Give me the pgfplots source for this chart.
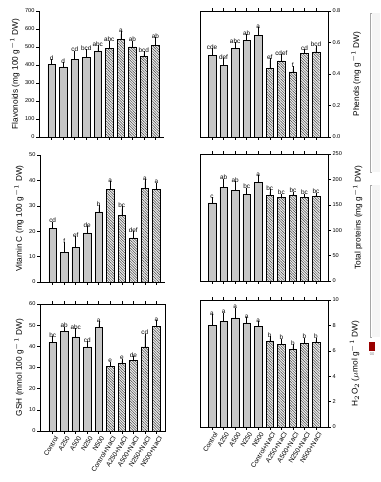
\documentclass[border=0pt]{standalone}
\usepackage{pgfplots}
\pgfplotsset{compat=1.18}
\usepackage{pgfplotstable}
\usepackage{fontspec}
\setmainfont{Liberation Sans}
\usetikzlibrary{patterns.meta}

\pgfplotstableread{
x y e l
0 402 18 d
1 389 15 d
2 430 37 cd
3 444 30 bcd
4 478 18 abc
5 491 31 abc
6 541 33 a
7 500 22 ab
8 448 15 bcd
9 509 32 ab
}\flav
\pgfplotstableread{
x y e l
0 0.518 0.032 cde
1 0.455 0.032 def
2 0.565 0.021 abc
3 0.614 0.025 ab
4 0.645 0.036 a
5 0.436 0.051 ef
6 0.483 0.029 cdef
7 0.413 0.021 f
8 0.529 0.015 cd
9 0.540 0.025 bcd
}\phen
\pgfplotstableread{
x y e l
0 21.0 1.8 cd
1 11.8 2.9 f
2 13.5 3.6 ef
3 19.3 1.7 de
4 27.6 1.7 b
5 36.4 2.4 a
6 26.3 2.6 bc
7 17.4 1.7 def
8 36.8 2.7 a
9 36.4 1.8 a
}\vitc
\pgfplotstableread{
x y e l
0 154 6 c
1 185 12 ab
2 179 13 ab
3 170 9 bc
4 194 10 a
5 169 7 bc
6 164.5 3 bc
7 168 3 bc
8 164.5 3 bc
9 166 3 bc
}\prot
\pgfplotstableread{
x y e l
0 41.9 1.8 bc
1 46.9 1.3 ab
2 44.5 3.0 abc
3 39.8 1.6 cd
4 49.0 1.8 a
5 30.6 1.0 e
6 31.9 1.1 e
7 33.2 1.1 de
8 39.8 5.1 cd
9 49.3 2.0 a
}\gsh
\pgfplotstableread{
x y e l
0 8.03 0.65 a
1 8.34 0.46 a
2 8.60 0.60 a
3 8.20 0.27 a
4 7.90 0.26 a
5 6.79 0.16 b
6 6.53 0.23 b
7 6.10 0.22 b
8 6.58 0.26 b
9 6.66 0.18 b
}\hoo

\pgfplotsset{
  panel/.style={scale only axis, ymin=0, xtick={0,...,9}, xticklabels={},
    tick align=outside, major tick length=2.2pt,
    tick style={black, line width=0.4pt}, axis line style={line width=0.5pt},
    ticklabel style={font=\fontsize{4.2}{4.5}\selectfont, inner sep=1pt},
    /pgf/number format/assume math mode=true,
    clip=false, legend style={draw=none}},
  leftp/.style={panel, xmin=-1.1, xmax=9.75, width=93.75pt, ytick pos=left,
    ylabel style={font=\fontsize{6.2}{7}\selectfont, inner sep=1pt, yshift=2pt}},
  rightp/.style={panel, xmin=-1.04, xmax=10.04, width=96pt, ytick pos=right,
    yticklabel pos=right, ylabel near ticks,
    ylabel style={font=\fontsize{6.2}{7}\selectfont, inner sep=1pt, yshift=-6pt}},
  xlab/.style={xticklabels={Control,A250,A500,N250,N500,Control+NaCl,A250+NaCl,A500+NaCl,N250+NaCl,N500+NaCl},
    xticklabel style={rotate=58, anchor=north east, font=\fontsize{5}{5.2}\selectfont, inner sep=0.3pt, yshift=-1.5pt}},
  gbar/.style={ybar, bar shift=0pt, bar width=0.65, fill=gray!45, draw=black, line width=0.35pt,
    restrict x to domain=0:4,
    error bars/.cd, y dir=plus, y explicit, error bar style={line width=0.35pt, black},
    error mark options={mark size=1.7pt, line width=0.35pt, black}},
  hbar/.style={ybar, bar shift=0pt, bar width=0.65, fill=gray!15, draw=black, line width=0.35pt,
    postaction={pattern={Lines[angle=-45,distance=1.4pt,line width=0.35pt]}, pattern color=gray!55!black},
    restrict x to domain=5:9,
    error bars/.cd, y dir=plus, y explicit, error bar style={line width=0.35pt, black},
    error mark options={mark size=1.7pt, line width=0.35pt, black}},
  labs/.style={draw=none, mark=none, nodes near coords, point meta=explicit symbolic,
    nodes near coords style={font=\fontsize{4.8}{5}\selectfont, anchor=south, inner sep=0.7pt, black}},
}

\begin{document}
\begin{tikzpicture}
\useasboundingbox (0,0) rectangle (285pt,361.5pt);

% cropped neighbouring figure at the right edge
\fill[gray!8] (279pt,351.75pt) rectangle (285pt,232.5pt);
\fill[gray!8] (279pt,222.75pt) rectangle (285pt,108.75pt);
\draw[gray!70, line width=0.4pt] (279pt,351.75pt) -- (277.5pt,351.75pt) -- (277.5pt,232.5pt) -- (279pt,232.5pt);
\draw[gray!70, line width=0.4pt] (279pt,222.75pt) -- (277.5pt,222.75pt) -- (277.5pt,108.75pt) -- (279pt,108.75pt);
\fill[red!60!black] (277pt,105pt) rectangle (281.5pt,98.5pt);
\node[font=\fontsize{3}{3}\selectfont, text=gray, inner sep=0pt, anchor=north] at (279pt,97.5pt) {00};

% Flavonoids
\begin{axis}[leftp, at={(29.25pt,258.75pt)}, anchor=south west, height=94.5pt,
  ymax=700, ytick={0,100,...,700}, axis x line*=bottom, axis y line*=left,
  ylabel={Flavonoids (mg 100 g$^{-1}$ DW)}]
\addplot[gbar] table[x=x,y=y,y error=e] {\flav};
\addplot[hbar] table[x=x,y=y,y error=e] {\flav};
\addplot[labs] table[x=x, y expr=\thisrow{y}+\thisrow{e}, meta=l] {\flav};
\end{axis}

% Phenols
\begin{axis}[rightp, at={(150pt,258.75pt)}, anchor=south west, height=94.5pt,
  ymax=0.8, ytick={0,0.2,...,0.8},
  yticklabel style={/pgf/number format/.cd, fixed, fixed zerofill, precision=1},
  ylabel={Phenols (mg g$^{-1}$ DW)}]
\addplot[gbar] table[x=x,y=y,y error=e] {\phen};
\addplot[hbar] table[x=x,y=y,y error=e] {\phen};
\addplot[labs] table[x=x, y expr=\thisrow{y}+\thisrow{e}, meta=l] {\phen};
\end{axis}

% Vitamin C
\begin{axis}[leftp, at={(30pt,150pt)}, anchor=south west, height=95.25pt,
  ymax=50, ytick={0,10,...,50}, axis x line*=bottom, axis y line*=left,
  ylabel={Vitamin C (mg 100 g$^{-1}$ DW)}]
\addplot[gbar] table[x=x,y=y,y error=e] {\vitc};
\addplot[hbar] table[x=x,y=y,y error=e] {\vitc};
\addplot[labs] table[x=x, y expr=\thisrow{y}+\thisrow{e}, meta=l] {\vitc};
\end{axis}

% Total proteins
\begin{axis}[rightp, at={(150pt,150.75pt)}, anchor=south west, height=95.25pt,
  ymax=250, ytick={0,50,...,250},
  ylabel={Total proteins (mg g$^{-1}$ DW)}]
\addplot[gbar] table[x=x,y=y,y error=e] {\prot};
\addplot[hbar] table[x=x,y=y,y error=e] {\prot};
\addplot[labs] table[x=x, y expr=\thisrow{y}+\thisrow{e}, meta=l] {\prot};
\end{axis}

% GSH
\begin{axis}[leftp, xlab, at={(30pt,38.25pt)}, anchor=south west, height=95.25pt,
  ymax=60, ytick={0,10,...,60},
  ylabel={GSH (mmol 100 g$^{-1}$ DW)}]
\addplot[gbar] table[x=x,y=y,y error=e] {\gsh};
\addplot[hbar] table[x=x,y=y,y error=e] {\gsh};
\addplot[labs] table[x=x, y expr=\thisrow{y}+\thisrow{e}, meta=l] {\gsh};
\end{axis}

% H2O2
\begin{axis}[rightp, xlab, at={(150pt,41.25pt)}, anchor=south west, height=95.25pt,
  ymax=10, ytick={0,2,...,10},
  ylabel={H$_2$O$_2$ ($\mu$mol g$^{-1}$ DW)}]
\addplot[gbar] table[x=x,y=y,y error=e] {\hoo};
\addplot[hbar] table[x=x,y=y,y error=e] {\hoo};
\addplot[labs] table[x=x, y expr=\thisrow{y}+\thisrow{e}, meta=l] {\hoo};
\end{axis}
\end{tikzpicture}
\end{document}
